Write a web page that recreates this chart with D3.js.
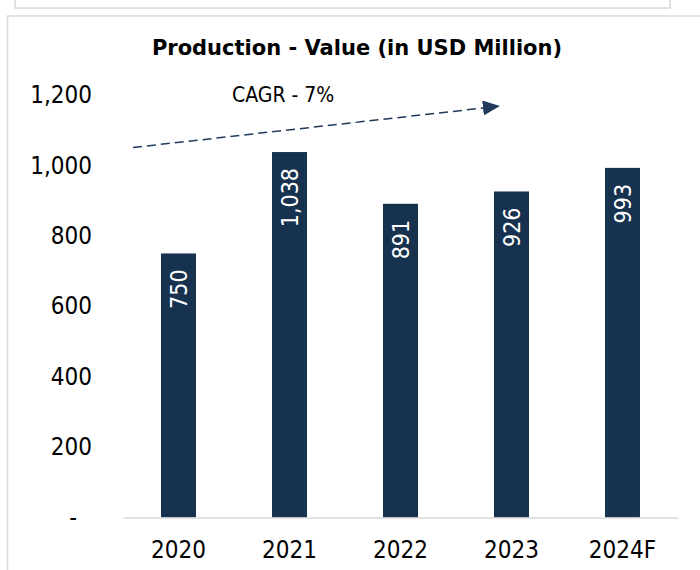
<!DOCTYPE html>
<html>
<head>
<meta charset="utf-8">
<style>
  body { margin: 0; background: #fff; }
  svg text { font-family: "DejaVu Sans Condensed", "DejaVu Sans", sans-serif; font-stretch: condensed; }
  svg text.title { font-family: "DejaVu Sans", sans-serif; font-stretch: normal; }
</style>
</head>
<body>
<svg></svg>
<script src="https://cdn.jsdelivr.net/npm/d3@7"></script>
<script>
const width = 700;
const height = 570;

// data
const years = ["2020", "2021", "2022", "2023", "2024F"];
const values = [750, 1038, 891, 926, 993];
const yTicks = [0, 200, 400, 600, 800, 1000, 1200];
const title = "Production - Value (in USD Million)";
const cagrLabel = "CAGR - 7%";

const barColor = "#17324f";
const gridGrey = "#d9d9d9";

const svg = d3.select("svg")
    .attr("width", width)
    .attr("height", height);

// frame lines (piece of the box above + this chart's box)
svg.append("path")
    .attr("d", "M15,0V8H670V0")
    .attr("fill", "none")
    .attr("stroke", gridGrey)
    .attr("stroke-width", 1.5);
svg.append("path")
    .attr("d", "M700,16H7.5V570")
    .attr("fill", "none")
    .attr("stroke", gridGrey)
    .attr("stroke-width", 1.5);

const x = d3.scaleBand()
    .domain(years)
    .range([123, 678])
    .paddingInner(0.685)
    .paddingOuter(0.3425);

const y = d3.scaleLinear()
    .domain([0, 1200])
    .range([517.5, 95]);

// title
svg.append("text")
    .attr("class", "title")
    .attr("x", 357)
    .attr("y", 55)
    .attr("text-anchor", "middle")
    .style("font-size", "21px")
    .style("font-weight", "bold")
    .text(title);

// y axis labels, no line
const yAxis = d3.axisLeft(y)
    .tickValues(yTicks)
    .tickSize(0)
    .tickPadding(0)
    .tickFormat(d => d === 0 ? "-" : d3.format(",")(d));
const yg = svg.append("g")
    .attr("transform", "translate(92,0)")
    .call(yAxis);
yg.select(".domain").remove();
yg.selectAll("text")
    .attr("fill", "#000")
    .style("font-size", "24px");
yg.selectAll(".tick")
    .filter(d => d === 0)
    .select("text")
    .attr("dx", -15);

// bars
svg.append("g")
    .selectAll("rect")
    .data(values)
    .join("rect")
    .attr("x", (d, i) => x(years[i]))
    .attr("y", d => y(d))
    .attr("width", x.bandwidth())
    .attr("height", d => y(0) - y(d))
    .attr("fill", barColor);

// rotated value labels inside bars
svg.append("g")
    .selectAll("text")
    .data(values)
    .join("text")
    .attr("transform", (d, i) =>
        `translate(${x(years[i]) + x.bandwidth() / 2},${y(d) + 16}) rotate(-90)`)
    .attr("text-anchor", "end")
    .attr("dominant-baseline", "central")
    .attr("fill", "#fff")
    .style("font-size", "23px")
    .text(d => d3.format(",")(d));

// x axis
const xAxis = d3.axisBottom(x).tickSize(0).tickPadding(0);
const xg = svg.append("g")
    .attr("transform", `translate(0,${y(0)})`)
    .call(xAxis);
xg.select(".domain")
    .attr("stroke", gridGrey)
    .attr("stroke-width", 1.5);
xg.selectAll("text")
    .attr("fill", "#000")
    .attr("dy", 0)
    .attr("y", 40)
    .style("font-size", "24px");

// CAGR arrow
const defs = svg.append("defs");
defs.append("marker")
    .attr("id", "head")
    .attr("viewBox", "0 0 17 15")
    .attr("refX", 0)
    .attr("refY", 7.5)
    .attr("markerWidth", 17)
    .attr("markerHeight", 15)
    .attr("markerUnits", "userSpaceOnUse")
    .attr("orient", "auto")
    .append("path")
    .attr("d", "M0,0L17,7.5L0,15Z")
    .attr("fill", "#1f3a5a");

svg.append("line")
    .attr("x1", 133)
    .attr("y1", 147.5)
    .attr("x2", 483)
    .attr("y2", 108)
    .attr("stroke", "#1f3a5a")
    .attr("stroke-width", 1.5)
    .attr("stroke-dasharray", "9,5")
    .attr("marker-end", "url(#head)");

svg.append("text")
    .attr("x", 232)
    .attr("y", 102)
    .style("font-size", "21px")
    .text(cagrLabel);
</script>
</body>
</html>
